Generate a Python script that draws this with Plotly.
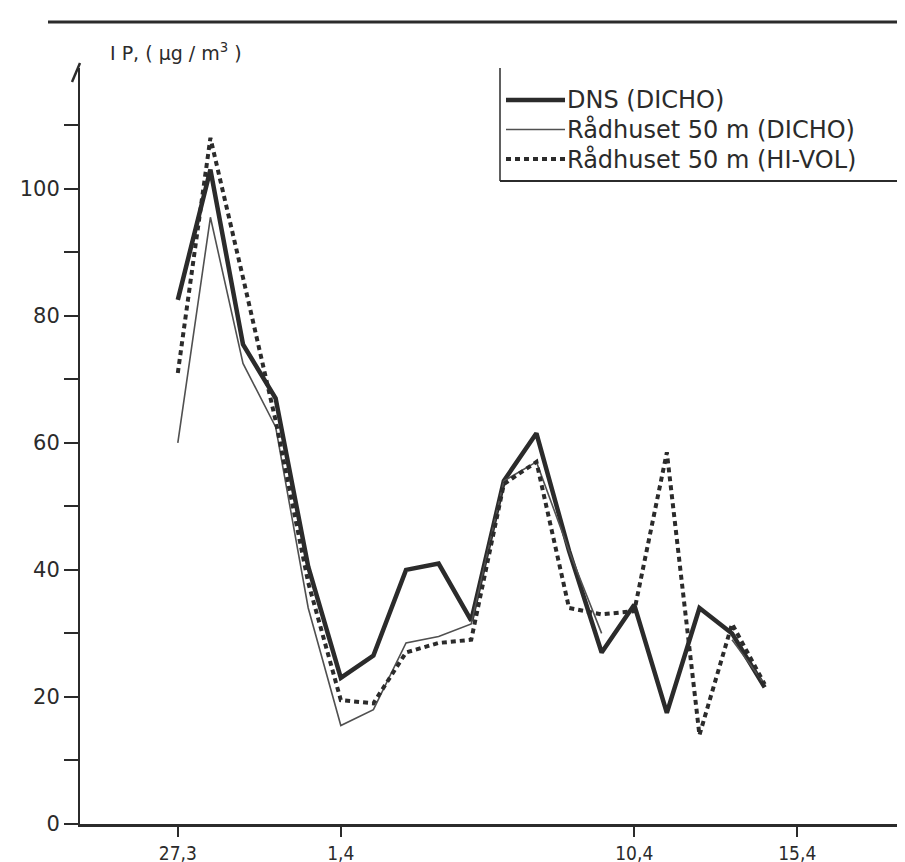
import plotly.graph_objects as go

# days counted from 27.3
days = [0, 1, 2, 3, 4, 5, 6, 7, 8, 9, 10, 11, 12, 13, 14, 15, 16, 17, 18]

dns_dicho = [82.5, 103, 75.5, 67, 40.5, 23, 26.5, 40, 41, 32, 54, 61.5, 43, 27, 34.5, 17.5, 34, 30, 21.5]
radhuset_dicho = [60, 95.5, 72.5, 62.5, 34, 15.5, 18, 28.5, 29.5, 31.5, 54, 57, 43, 30, None, None, None, 29, 22]
radhuset_hivol = [71, 108, 86, 63.5, 38, 19.5, 19, 27, 28.5, 29, 53.5, 57, 34, 33, 33.5, 58.5, 14, 31.5, 22]

tick_days = [0, 5, 14, 19]
tick_labels = ['27,3', '1,4', '10,4', '15,4']

series_names = ['DNS (DICHO)', 'Rådhuset 50 m (DICHO)', 'Rådhuset 50 m (HI-VOL)']

INK = '#2b2b2b'
W, H = 905, 862
L, R, T, B = 72, 0, 60, 46

styles = [
    dict(color=INK, width=4.5),
    dict(color='#505050', width=1.6),
    dict(color=INK, width=4, dash='5px,4px'),
]


def px(x, y):
    """Pixel position -> paper coordinates."""
    return (x - L) / (W - L - R), (H - B - y) / (H - T - B)


fig = go.Figure()
for name, values, line in zip(series_names, [dns_dicho, radhuset_dicho, radhuset_hivol], styles):
    fig.add_trace(go.Scatter(
        x=days, y=values, name=name, mode='lines',
        line=line, connectgaps=False, showlegend=False,
        hovertemplate='%{x}<br>%{y}<extra></extra>'
    ))

shapes = []
annotations = []

# hand-drawn style legend box (left and bottom edges only)
x0, y0 = px(492, 60)
x1, y1 = px(492, 173)
x2, _ = px(905, 173)
shapes.append(dict(type='line', xref='paper', yref='paper', x0=x0, y0=y0, x1=x1, y1=y1,
                   line=dict(color=INK, width=1.5)))
shapes.append(dict(type='line', xref='paper', yref='paper', x0=x1, y0=y1, x1=x2, y1=y1,
                   line=dict(color=INK, width=2)))

for i, (name, line) in enumerate(zip(series_names, styles)):
    yy = 92 + i * 29.5
    a, b = px(498, yy)
    c, _ = px(557, yy)
    shapes.append(dict(type='line', xref='paper', yref='paper', x0=a, y0=b, x1=c, y1=b, line=line))
    tx, ty = px(557, yy)
    annotations.append(dict(
        text=name, xref='paper', yref='paper', x=tx, y=ty,
        xanchor='left', yanchor='middle', showarrow=False,
        font=dict(family='DejaVu Sans', size=24, color=INK)
    ))

# top frame line
a, b = px(40, 14)
c, _ = px(905, 14)
shapes.append(dict(type='line', xref='paper', yref='paper', x0=a, y0=b, x1=c, y1=b,
                   line=dict(color=INK, width=3)))

# little arrow tip on the y axis
a, b = px(64, 74)
c, d = px(72, 55)
shapes.append(dict(type='line', xref='paper', yref='paper', x0=a, y0=b, x1=c, y1=d,
                   line=dict(color=INK, width=2.5)))

# y axis title
tx, ty = px(100, 44)
annotations.append(dict(
    text='I P, ( µg / m<sup>3</sup> )', xref='paper', yref='paper', x=tx, y=ty,
    xanchor='left', yanchor='middle', showarrow=False,
    font=dict(family='DejaVu Sans', size=19, color=INK)
))

fig.update_layout(
    width=W, height=H,
    margin=dict(l=L, r=R, t=T, b=B),
    template='plotly_white',
    plot_bgcolor='white',
    paper_bgcolor='white',
    showlegend=False,
    shapes=shapes,
    annotations=annotations,
    xaxis=dict(
        range=[-3.0, 22.55],
        tickvals=tick_days, ticktext=tick_labels,
        showgrid=False, zeroline=False,
        showline=True, linecolor=INK, linewidth=3,
        ticks='outside', ticklen=10, tickwidth=2, tickcolor=INK,
        tickfont=dict(family='DejaVu Sans Condensed', size=19, color=INK),
    ),
    yaxis=dict(
        range=[0, 119],
        tickvals=[0, 20, 40, 60, 80, 100],
        showgrid=False, zeroline=False,
        showline=True, linecolor=INK, linewidth=2,
        ticks='outside', ticklen=14, tickwidth=2, tickcolor=INK,
        tickfont=dict(family='DejaVu Sans', size=21, color=INK),
        minor=dict(tickvals=[10, 30, 50, 70, 90, 110], ticks='outside',
                   ticklen=14, tickwidth=2, tickcolor=INK, showgrid=False),
    ),
)

fig.write_html('out.html')
